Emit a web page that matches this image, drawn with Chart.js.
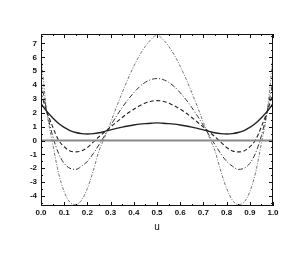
<!DOCTYPE html>
<html>
<head>
<meta charset="utf-8">
<script src="https://cdn.jsdelivr.net/npm/chart.js@4.4.1/dist/chart.umd.min.js"></script>
<style>
  html,body{margin:0;padding:0;background:#fff;}
  #c{display:block;}
</style>
</head>
<body>
<canvas id="c" width="305" height="258"></canvas>
<script>
// u grid, step 0.025
const uVals = [0,0.025,0.05,0.075,0.1,0.125,0.15,0.175,0.2,0.225,0.25,0.275,0.3,0.325,0.35,0.375,0.4,0.425,0.45,0.475,0.5,
  0.525,0.55,0.575,0.6,0.625,0.65,0.675,0.7,0.725,0.75,0.775,0.8,0.825,0.85,0.875,0.9,0.925,0.95,0.975,1];

const solidVals = [2.65,2.1,1.65,1.25,0.95,0.72,0.58,0.5,0.47,0.5,0.56,0.66,0.77,0.88,0.97,1.05,1.12,1.18,1.22,1.25,1.27,
  1.25,1.22,1.18,1.12,1.05,0.97,0.88,0.77,0.66,0.56,0.5,0.47,0.5,0.58,0.72,0.95,1.25,1.65,2.1,2.65];
const dashVals = [3.4,2.1,1.0,0.05,-0.45,-0.75,-0.82,-0.75,-0.5,-0.12,0.27,0.62,0.97,1.32,1.66,1.98,2.26,2.5,2.7,2.83,2.88,
  2.83,2.7,2.5,2.26,1.98,1.66,1.32,0.97,0.62,0.27,-0.12,-0.5,-0.75,-0.82,-0.75,-0.45,0.05,1.0,2.1,3.4];
const dashDotVals = [4.3,2.1,0.35,-0.9,-1.65,-2.0,-2.08,-1.85,-1.5,-0.95,-0.3,0.38,1.08,1.75,2.38,2.95,3.45,3.88,4.2,4.4,4.47,
  4.4,4.2,3.88,3.45,2.95,2.38,1.75,1.08,0.38,-0.3,-0.95,-1.5,-1.85,-2.08,-2.0,-1.65,-0.9,0.35,2.1,4.3];
const dotVals = [6.1,2.1,-0.2,-2.3,-3.7,-4.45,-4.62,-4.3,-3.45,-2.2,-0.75,0.25,1.3,2.4,3.45,4.45,5.35,6.15,6.8,7.3,7.6,
  7.3,6.8,6.15,5.35,4.45,3.45,2.4,1.3,0.25,-0.75,-2.2,-3.45,-4.3,-4.62,-4.45,-3.7,-2.3,-0.2,2.1,6.1];
const zeroLine = [{x:0,y:0},{x:1,y:0}];

const xTicks = [0,0.1,0.2,0.3,0.4,0.5,0.6,0.7,0.8,0.9,1.0];
const xMinor = [0.05,0.15,0.25,0.35,0.45,0.55,0.65,0.75,0.85,0.95];
const yTicks = [-4,-3,-2,-1,0,1,2,3,4,5,6,7];
const yMinor = [-4.5,-3.5,-2.5,-1.5,-0.5,0.5,1.5,2.5,3.5,4.5,5.5,6.5,7.5];

function pts(vals){ return uVals.map((u,i)=>({x:u,y:vals[i]})); }

const frame = {
  id:"frame",
  afterDatasetsDraw(chart){
    const {ctx, chartArea:a, scales:{x,y}} = chart;
    ctx.save();
    ctx.strokeStyle = "#111"; ctx.lineWidth = 1;
    ctx.strokeRect(a.left+0.5, a.top+0.5, a.right-a.left-1, a.bottom-a.top-1);
    ctx.beginPath();
    const tk = (list,len)=>{
      list.forEach(v=>{ const px = Math.round(x.getPixelForValue(v))+0.5;
        ctx.moveTo(px,a.bottom); ctx.lineTo(px,a.bottom-len);
        ctx.moveTo(px,a.top); ctx.lineTo(px,a.top+len); });
    };
    const tky = (list,len)=>{
      list.forEach(v=>{ const py = Math.round(y.getPixelForValue(v))+0.5;
        ctx.moveTo(a.left,py); ctx.lineTo(a.left+len,py);
        ctx.moveTo(a.right,py); ctx.lineTo(a.right-len,py); });
    };
    tk(xTicks,4); tk(xMinor,2); tky(yTicks,4); tky(yMinor,2);
    ctx.stroke();
    ctx.restore();
  }
};

new Chart(document.getElementById("c"), {
  type:"line",
  data:{
    datasets:[
      {data:zeroLine, borderColor:"#8a8a8a", borderWidth:2},
      {data:pts(solidVals), borderColor:"#222", borderWidth:1.4},
      {data:pts(dashVals), borderColor:"#222", borderWidth:1.1, borderDash:[4,2.5]},
      {data:pts(dashDotVals), borderColor:"#333", borderWidth:1, borderDash:[5,2,1,2]},
      {data:pts(dotVals), borderColor:"#666", borderWidth:0.9, borderDash:[3,1.5,1,1.5]}
    ]
  },
  options:{
    responsive:false, animation:false,
    layout:{padding:{left:0,top:34,right:32,bottom:25}},
    elements:{point:{radius:0}, line:{cubicInterpolationMode:"monotone", fill:false}},
    plugins:{legend:{display:false}, tooltip:{enabled:false}},
    scales:{
      x:{type:"linear", min:0, max:1,
        afterBuildTicks:s=>{ s.ticks = xTicks.map(v=>({value:v})); },
        afterFit:s=>{ s.height = 27; },
        grid:{display:false, drawTicks:false}, border:{display:false},
        ticks:{padding:2, color:"#111", font:{family:"Liberation Sans", size:8, weight:"bold"}, callback:v=>v.toFixed(1), maxRotation:0},
        title:{display:true, text:"u", color:"#111", padding:{top:4,bottom:0}, font:{family:"Liberation Sans", size:10}}
      },
      y:{type:"linear", min:-4.72, max:7.68,
        afterBuildTicks:s=>{ s.ticks = yTicks.map(v=>({value:v})); },
        afterFit:s=>{ s.width = 41; },
        grid:{display:false, drawTicks:false}, border:{display:false},
        ticks:{padding:4, color:"#111", font:{family:"Liberation Sans", size:8, weight:"bold"}}
      }
    }
  },
  plugins:[frame]
});
</script>
</body>
</html>
